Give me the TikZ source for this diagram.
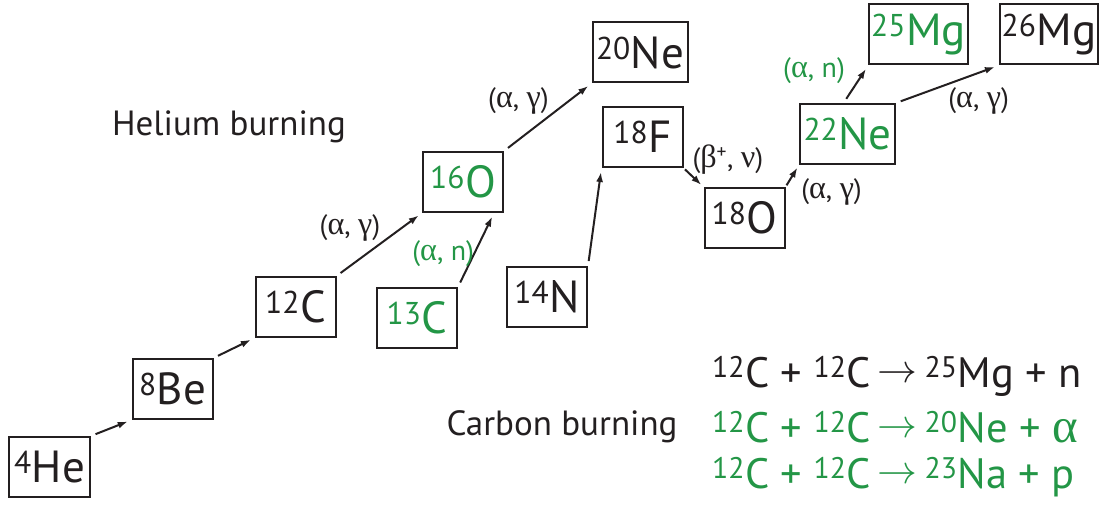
\documentclass[tikz,border=0pt]{standalone}
\usepackage{fontspec}
\setmainfont{PT Sans}
\newfontfamily\greekfont[Scale=1.15]{Liberation Serif}
\usetikzlibrary{arrows.meta}
\definecolor{nucgreen}{RGB}{35,150,70}
\definecolor{inkblack}{RGB}{35,31,32}
\newcommand{\iso}[2]{\textsuperscript{#1}#2}
\newcommand{\gr}[1]{{\greekfont #1}}
\newcommand{\yields}{\,\raisebox{0.1em}{\scalebox{1.6}{$\rightarrow$}}\,}

\begin{document}
\begin{tikzpicture}
[x=1pt, y=-1pt, inkblack,
nuc node/.style={draw, line width=2pt, minimum width=80pt, minimum height=60pt,
  inner xsep=5pt, font=\fontsize{45}{50}\selectfont},
wide node/.style={nuc node, minimum width=95pt, inner xsep=2pt},
green node/.style={text=nucgreen},
react/.style={-{Latex[length=10pt,width=7pt]}, line width=2pt, shorten <=5pt, shorten >=4pt},
lbl/.style={font=\fontsize{28}{32}\selectfont, inner sep=2pt},
burn/.style={font=\fontsize{35}{40}\selectfont},
eq/.style={font=\fontsize{42.5}{48}\selectfont, anchor=base west, inner sep=0pt}]
\useasboundingbox (0,0) rectangle (1099,508);

\node[nuc node] (he4) at (49.5,467) {\iso{4}{He}};
\node[nuc node] (be8) at (172.5,389) {\iso{8}{Be}};
\node[nuc node] (c12) at (295.5,307) {\iso{12}{C}};
\node[nuc node, green node] (c13) at (417,318) {\iso{13}{C}};
\node[nuc node, green node] (o16) at (463,182) {\iso{16}{O}};
\node[nuc node] (n14) at (547,297) {\iso{14}{N}};
\node[wide node] (ne20) at (640,52.5) {\iso{20}{Ne}};
\node[nuc node] (f18) at (642.5,137) {\iso{18}{F}};
\node[nuc node] (o18) at (744.5,218) {\iso{18}{O}};
\node[wide node, green node] (ne22) at (847.5,134) {\iso{22}{Ne}};
\node[wide node, green node] (mg25) at (918.5,34.5) {\iso{25}{Mg}};
\node[wide node] (mg26) at (1049,34.5) {\iso{26}{Mg}};

\node[burn] (helium) at (229,127) {Helium burning};
\node[burn] (carbon) at (562,427) {Carbon burning};

\draw[react] (he4.north east) -- (be8.south west);
\draw[react] (be8.north east) -- (c12.south west);
\draw[react] (c12.north east) -- node[lbl, above left, xshift=4pt] {(\gr{α}, \gr{γ})} (o16.south west);
\draw[react] (c13.north east) -- node[lbl, left, text=nucgreen, xshift=1pt, yshift=-4pt] {(\gr{α}, n)} ([xshift=-10pt]o16.south east);
\draw[react] (o16.north east) -- node[lbl, above left, xshift=4pt] {(\gr{α}, \gr{γ})} (ne20.south west);
\draw[react] (n14.north east) -- (f18.south west);
\draw[react, shorten <=2pt, shorten >=3pt] (f18.south east) -- node[lbl, above right, xshift=-4pt] {(\gr{β}\textsuperscript{+}, \gr{ν})} (o18.north west);
\draw[react, shorten <=2pt, shorten >=3pt] (o18.north east) -- node[lbl, below right, xshift=6pt] {(\gr{α}, \gr{γ})} (ne22.south west);
\draw[react] ([xshift=-4pt]ne22.north) -- node[lbl, above left, text=nucgreen, xshift=-8pt, yshift=-2pt] {(\gr{α}, n)} (mg25.south west);
\draw[react] (ne22.north east) -- node[lbl, below right, xshift=-2pt] {(\gr{α}, \gr{γ})} (mg26.south west);

\node[eq] (eqmg) at (712,387) {\iso{12}{C} + \iso{12}{C}\yields\iso{25}{Mg} + n};
\node[eq, text=nucgreen] (eqne) at (712,442) {\iso{12}{C} + \iso{12}{C}\yields\iso{20}{Ne} + \gr{α}};
\node[eq, text=nucgreen] (eqna) at (712,488) {\iso{12}{C} + \iso{12}{C}\yields\iso{23}{Na} + p};
\end{tikzpicture}
\end{document}
